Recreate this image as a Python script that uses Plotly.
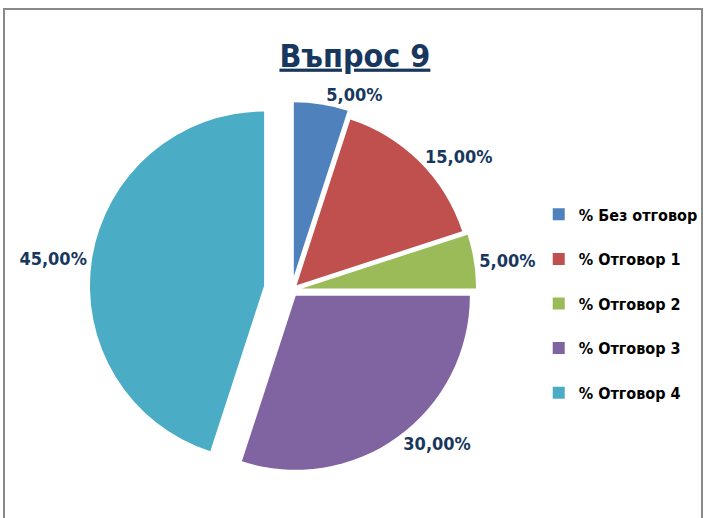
import plotly.graph_objects as go

labels = ["% Без отговор", "% Отговор 1", "% Отговор 2", "% Отговор 3", "% Отговор 4"]
values = [5, 15, 5, 30, 45]
colors = ["#4F81BD", "#C0504D", "#9BBB59", "#8064A2", "#4BACC6"]
pulls = [0.08, 0.04, 0.06, 0.04, 0.16]

FONT = "DejaVu Sans Condensed"

# a blank second line gives the legend entries the reference's wider spacing
legend_labels = [lab + "<br> " for lab in labels]

fig = go.Figure(go.Pie(
    labels=legend_labels,
    values=values,
    marker=dict(colors=colors, line=dict(color="white", width=0)),
    sort=False,
    direction="clockwise",
    rotation=0,
    pull=pulls,
    texttemplate="%{percent:.2%}",
    textposition="outside",
    textfont=dict(family=FONT, size=18, color="#17375E", weight="bold"),
    domain=dict(x=[0.05, 0.775], y=[0.05, 0.83]),
    hoverinfo="percent",
))

fig.update_layout(
    width=707, height=518,
    margin=dict(l=0, r=0, t=0, b=0, autoexpand=False),
    separators=", ",
    paper_bgcolor="white",
    title=dict(
        text="<b><u>Въпрос 9</u></b>",
        x=0.502, xanchor="center",
        y=0.893, yanchor="middle",
        font=dict(family=FONT, size=32, color="#17375E"),
    ),
    legend=dict(
        x=0.762, xanchor="left",
        y=0.394, yanchor="middle",
        font=dict(family=FONT, size=16, color="black", weight="bold"),
        itemwidth=30,
        valign="top",
        bgcolor="rgba(0,0,0,0)",
    ),
    shapes=[dict(
        type="rect", xref="paper", yref="paper",
        x0=4/707, x1=702/707, y0=-0.02, y1=1 - 9/518,
        line=dict(color="#898989", width=2),
    )],
)

fig.write_html(
    "out.html",
    config={"displayModeBar": False},
    post_script=(
        "document.body.style.margin='0';"
        "document.body.style.overflow='hidden';"
        "document.documentElement.style.overflow='hidden';"
    ),
)
